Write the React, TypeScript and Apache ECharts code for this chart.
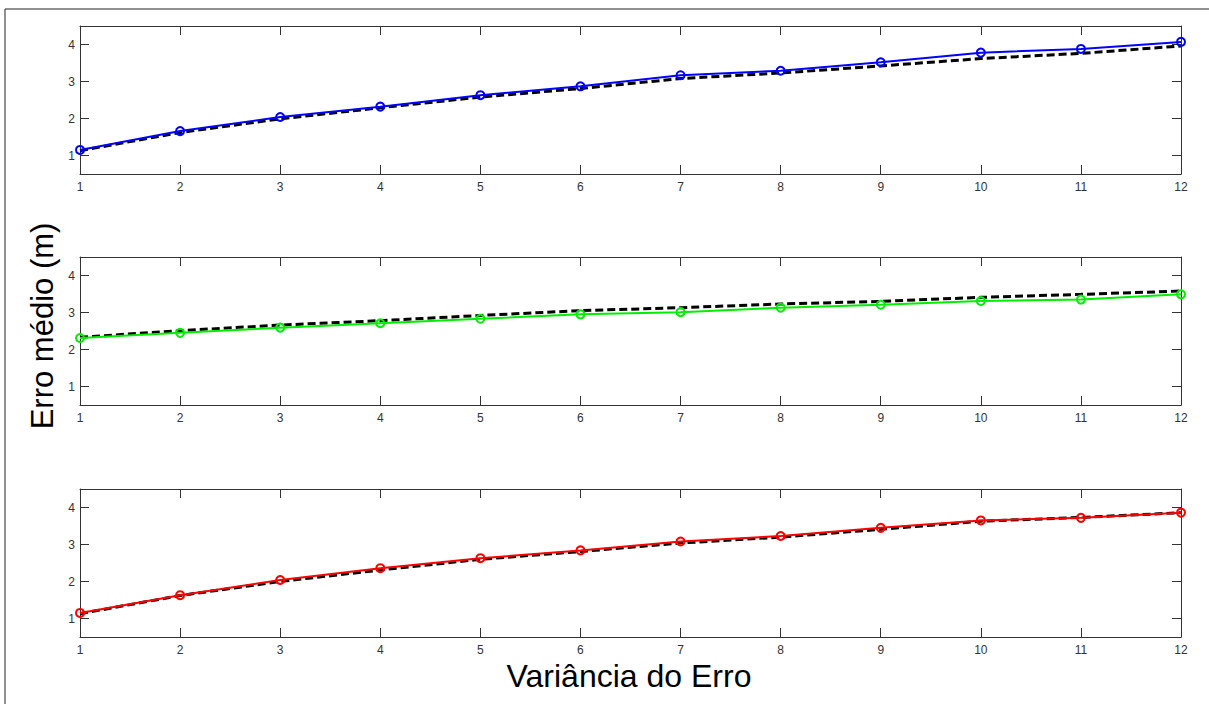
import React, { useEffect, useRef } from "react";
import * as echarts from "echarts";

const xValues = [1, 2, 3, 4, 5, 6, 7, 8, 9, 10, 11, 12];
const yTicks = [1, 2, 3, 4];

const topBlue = [1.15, 1.66, 2.04, 2.32, 2.63, 2.87, 3.17, 3.29, 3.52, 3.78, 3.88, 4.07];
const topBlack = [1.13, 1.62, 1.99, 2.29, 2.58, 2.81, 3.08, 3.23, 3.42, 3.62, 3.76, 3.96];

const midGreen = [2.31, 2.45, 2.59, 2.71, 2.83, 2.95, 3.01, 3.13, 3.21, 3.31, 3.35, 3.49];
const midBlack = [2.33, 2.51, 2.66, 2.78, 2.92, 3.05, 3.13, 3.23, 3.30, 3.41, 3.49, 3.58];

const botRed = [1.15, 1.63, 2.04, 2.36, 2.63, 2.84, 3.08, 3.23, 3.45, 3.65, 3.72, 3.86];
const botBlack = [1.13, 1.62, 2.0, 2.31, 2.6, 2.81, 3.04, 3.2, 3.41, 3.63, 3.73, 3.86];

const xTitle = "Variância do Erro";
const yTitle = "Erro médio (m)";

const panels = [
  { colored: topBlue, black: topBlack, color: "#0000ff" },
  { colored: midGreen, black: midBlack, color: "#00ee00" },
  { colored: botRed, black: botBlack, color: "#ff0000" },
];

const gridTops = [26, 257, 489];

export default function App() {
  const ref = useRef<HTMLDivElement>(null);

  useEffect(() => {
    if (!ref.current) return;
    const chart = echarts.init(ref.current, undefined, { renderer: "svg" });
    const axisColor = "#333333";
    const labelFont = { fontFamily: "Liberation Sans, Arial, sans-serif", fontSize: 12, color: "#333" };

    const grid: any[] = [];
    const xAxis: any[] = [];
    const yAxis: any[] = [];
    const series: any[] = [];

    panels.forEach((p, i) => {
      grid.push({ left: 80, right: 28, top: gridTops[i], height: 148 });
      xAxis.push({
        type: "value",
        gridIndex: i,
        position: "bottom",
        min: 1,
        max: 12,
        interval: 1,
        axisLine: { show: true, onZero: false, lineStyle: { color: axisColor, width: 1 } },
        axisTick: { show: true, inside: true, length: 9, lineStyle: { color: axisColor } },
        axisLabel: { show: true, margin: 7, showMinLabel: true, showMaxLabel: true, ...labelFont },
        splitLine: { show: false },
      });
      xAxis.push({
        type: "value",
        gridIndex: i,
        position: "top",
        min: 1,
        max: 12,
        interval: 1,
        axisLine: { show: true, onZero: false, lineStyle: { color: axisColor, width: 1 } },
        axisTick: { show: true, inside: true, length: 9, lineStyle: { color: axisColor } },
        axisLabel: { show: false },
        splitLine: { show: false },
      });
      yAxis.push({
        type: "value",
        gridIndex: i,
        position: "left",
        min: 0.5,
        max: 4.5,
        axisLine: { show: true, onZero: false, lineStyle: { color: axisColor, width: 1 } },
        axisTick: { show: true, inside: true, length: 9, customValues: yTicks, lineStyle: { color: axisColor } },
        axisLabel: { show: true, margin: 5, customValues: yTicks, ...labelFont },
        splitLine: { show: false },
      });
      yAxis.push({
        type: "value",
        gridIndex: i,
        position: "right",
        min: 0.5,
        max: 4.5,
        axisLine: { show: true, onZero: false, lineStyle: { color: axisColor, width: 1 } },
        axisTick: { show: true, inside: true, length: 9, customValues: yTicks, lineStyle: { color: axisColor } },
        axisLabel: { show: false },
        splitLine: { show: false },
      });

      series.push({
        type: "line",
        xAxisIndex: i * 2,
        yAxisIndex: i * 2,
        data: xValues.map((x, k) => [x, p.black[k]]),
        showSymbol: false,
        symbol: "none",
        lineStyle: { color: "#000", width: 3, type: [8, 4] },
        z: 2,
      });
      series.push({
        type: "line",
        xAxisIndex: i * 2,
        yAxisIndex: i * 2,
        data: xValues.map((x, k) => [x, p.colored[k]]),
        symbol: "circle",
        symbolSize: 8,
        itemStyle: { color: "rgba(255,255,255,0)", borderColor: p.color, borderWidth: 2 },
        lineStyle: { color: p.color, width: 2 },
        z: 3,
      });
    });

    chart.setOption({
      animation: false,
      backgroundColor: "#ffffff",
      grid,
      xAxis,
      yAxis,
      series,
      graphic: [
        {
          type: "rect",
          shape: { x: 5, y: 9, width: 1300, height: 800 },
          style: { fill: "none", stroke: "#222", lineWidth: 1 },
          silent: true,
          z: 0,
        },
        {
          type: "text",
          x: 629,
          y: 676,
          style: {
            text: xTitle,
            font: "32px 'Liberation Sans', Arial, sans-serif",
            fill: "#000",
            textAlign: "center",
            textVerticalAlign: "middle",
          },
        },
        {
          type: "text",
          x: 42,
          y: 326,
          rotation: Math.PI / 2,
          style: {
            text: yTitle,
            font: "31px 'Liberation Sans', Arial, sans-serif",
            fill: "#000",
            textAlign: "center",
            textVerticalAlign: "middle",
          },
        },
      ],
    });

    return () => chart.dispose();
  }, []);

  return (
    <div
      ref={ref}
      style={{ position: "fixed", left: 0, top: 0, width: 1209, height: 704, background: "#fff" }}
    />
  );
}
